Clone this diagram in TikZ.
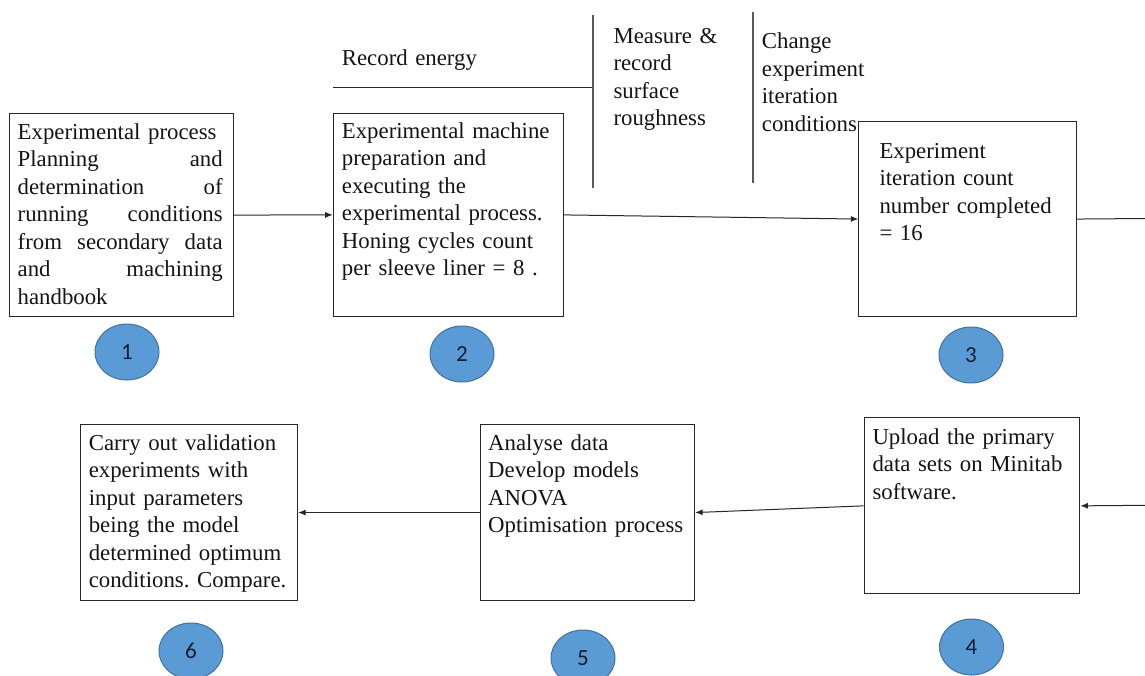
\documentclass[tikz,border=0pt]{standalone}
\usepackage{fontspec}
\setmainfont{Liberation Serif}
\newfontfamily\numfont{Carlito}
\usetikzlibrary{arrows.meta,shapes.geometric}
\definecolor{numfill}{RGB}{91,155,213}
\definecolor{numedge}{RGB}{65,113,156}
\definecolor{numtext}{RGB}{22,30,48}
\newcommand{\jline}[1]{\leavevmode\hbox to 205pt{#1}}
\frenchspacing
\begin{document}
\begin{tikzpicture}[x=1pt,y=-1pt,
  box/.style={draw=black!85, line width=1.1pt, rectangle, inner sep=0pt, anchor=north west},
  txt/.style={anchor=base west, inner sep=0pt, align=left, text width=#1,
    font=\fontsize{22.8}{27.5}\selectfont\frenchspacing, text=black!92},
  txt/.default=240pt,
  num/.style={ellipse, draw=numedge, fill=numfill, line width=1pt, minimum width=64pt,
    minimum height=56pt, inner sep=0pt, font=\numfont\fontsize{23}{26}\selectfont, text=numtext},
  arr/.style={-{Latex[length=7.5pt,width=6pt]}, line width=1pt, draw=black!85},
  ln/.style={line width=1pt, draw=black!85},
  sep/.style={line width=1.2pt, draw=black!65}]
\useasboundingbox (0,0) rectangle (1145,675);

% boxes
\node[box, minimum width=223.5pt, minimum height=203pt] (b1) at (9,113) {};
\node[box, minimum width=230.3pt, minimum height=203.3pt] (b2) at (332.7,112.7) {};
\node[box, minimum width=217.7pt, minimum height=195pt] (b3) at (858.3,121) {};
\node[box, minimum width=215.8pt, minimum height=176pt] (b4) at (863.5,417.3) {};
\node[box, minimum width=214.4pt, minimum height=176pt] (b5) at (479.6,424) {};
\node[box, minimum width=217.5pt, minimum height=176pt] (b6) at (79.5,424) {};

% box texts
\node[txt=205pt] (t1) at (17.5,139.3) {Experimental process\\
\jline{Planning\hfill and}\\
\jline{determination\hfill of}\\
\jline{running\hfill conditions}\\
\jline{from\hfill secondary\hfill data}\\
\jline{and\hfill machining}\\
handbook};
\node[txt] (t2) at (341.7,138.3) {Experimental machine\\preparation and\\executing the\\experimental process.\\Honing cycles count\\per sleeve liner = 8 .};
\node[txt] (t3) at (879.3,158.3) {Experiment\\iteration count\\number completed\\= 16};
\node[txt] (t4) at (872.3,444.3) {Upload the primary\\data sets on Minitab\\software.};
\node[txt] (t5) at (488,450) {Analyse data\\Develop models\\ANOVA\\Optimisation process};
\node[txt] (t6) at (88.6,450) {Carry out validation\\experiments with\\input parameters\\being the model\\determined optimum\\conditions. Compare.};

% top annotations
\node[txt] (rec) at (341.7,65) {Record energy};
\node[txt=140pt] (meas) at (613.3,43) {Measure \&\\record\\surface\\roughness};
\node[txt=140pt] (chg) at (761.7,48.5) {Change\\experiment\\iteration\\conditions};
\coordinate (h1) at (333,87.3);
\coordinate (h2) at (593,87.3);
\coordinate (v1a) at (593,15);
\coordinate (v1b) at (593,188);
\coordinate (v2a) at (753,11.7);
\coordinate (v2b) at (753,183.3);
\draw[ln] (h1) -- (h2);
\draw[sep] (v1a) -- (v1b);
\draw[sep] (v2a) -- (v2b);

% numbered circles
\node[num] (n1) at (127,352) {1};
\node[num] (n2) at (462,354) {2};
\node[num] (n3) at (971,355) {3};
\node[num] (n4) at (971.5,647) {4};
\node[num] (n5) at (583,658) {5};
\node[num] (n6) at (191,651) {6};

% connectors
\coordinate (e1) at (1145,218.5);
\coordinate (e2) at (1145,505.3);
\draw[arr] (b1.east) -- (b2.west);
\draw[arr] (b2.east) -- (b3.west);
\draw[ln] (b3.east) -- (e1);
\draw[arr] (e2) -- (b4.east);
\draw[arr] (b4.west) -- (b5.east);
\draw[arr] (b5.west) -- (b6.east);
\end{tikzpicture}
\end{document}
